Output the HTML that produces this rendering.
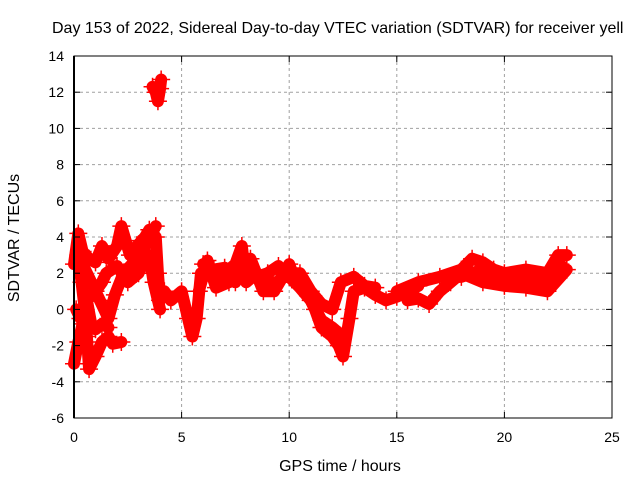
<!DOCTYPE html>
<html><head><meta charset="utf-8"><style>
body{margin:0;background:#fff}
svg text{font-family:"Liberation Sans",sans-serif;font-size:14px;fill:#000}
svg text.big{font-size:16px}
</style></head><body>
<svg width="640" height="480">
<g id="grid"></g>
<g id="series"></g>
<g id="axes"></g>
<text class="big" x="52" y="33" text-anchor="start">Day 153 of 2022, Sidereal Day-to-day VTEC variation (SDTVAR) for receiver yell</text>
<text class="big" x="340" y="471" text-anchor="middle">GPS time / hours</text>
<text class="big" transform="translate(19,238) rotate(-90)" text-anchor="middle">SDTVAR / TECUs</text>
</svg>
<script>
const xTicks=[0,5,10,15,20,25];
const yTicks=[-6,-4,-2,0,2,4,6,8,10,12,14];
const trackA=[[0,2.5],[0.2,4.2],[0.4,3.2],[0.7,2.8],[1,2.6],[1.3,3.5],[1.6,2.8],[2,3.5],[2.2,4.6],[2.4,3.8],[2.6,3],[3,3.6],[3.3,4],[3.5,4.4],[3.8,4],[3.9,2],[4,0.5]];
const trackB=[[0.1,0],[0.3,-0.5],[0.6,0.5],[1,1],[1.3,1.5],[1.5,2],[2,2.4],[2.5,1.5],[3,2],[3.3,2.8],[3.5,3],[3.7,1.5],[4,0]];
const trackC=[[0,-3],[0.2,-1.8],[0.4,-0.8],[0.6,0.5],[0.8,-0.8],[1,-1.1],[1.3,-0.8],[1.6,-1]];
const trackD=[[0.2,3],[0.35,1.5],[0.5,0],[0.6,-1.5],[0.7,-3.3],[1,-2.6],[1.3,-1.8],[1.6,-1.5],[1.8,-1.9],[2.2,-1.8]];
const trackK=[[0.4,2.5],[0.8,1.5],[1.2,0.5],[1.6,-0.5],[1.9,0.8],[2.3,2],[2.7,2.5],[3.1,3],[3.5,4],[3.8,4.6]];
const trackE=[[3.65,12.3],[3.8,12],[3.9,11.5],[4,12.2],[4.05,12.7]];
const trackF=[[4.2,1],[4.5,0.5],[5,1],[5.3,-0.5],[5.5,-1.5],[5.7,-0.5],[5.9,2],[6.3,2],[6.8,1.5],[7,2],[7.5,2.5],[7.8,3.5],[8,1.5],[8.5,2],[9,1.5],[9.5,1.5],[10,2.5],[10.3,1.5],[10.8,1],[11.2,0],[11.5,-1],[12,-1.5],[12.3,-2],[12.5,-2.6],[12.8,-0.5],[13,1],[13.5,1.2],[14,0.8],[14.5,0.5],[15,0.7],[15.5,1],[16,1.3]];
const trackG=[[5.8,1],[6.2,2.7],[6.6,1.2],[7.2,1.5],[7.6,1.8],[8.2,2.8],[8.8,1],[9.3,1],[9.8,2],[10.5,2],[11,1],[11.5,0.3],[12,0],[12.4,1.5],[13,1.8],[13.5,1.3],[14,1.2]];
const trackL=[[6,2.5],[6.5,2.2],[7,2.3],[7.5,1.5],[8,2.4],[8.5,1.8],[9,2],[9.5,2.4],[10,1.8],[10.5,1.2],[11,0.5],[11.5,-0.6],[12,-1],[12.5,-1.5]];
const trackH=[[15,1],[16,1.5],[17,1.8],[18,2.2],[18.5,2.8],[19,2.6],[19.5,2.2],[20,2],[21,2.2],[22,2],[22.5,3],[22.9,3]];
const trackI=[[15.5,0.5],[16,0.6],[16.5,0.3],[17,1],[17.5,1.5],[18,2],[19,1.5],[20,1.3],[21,1.2],[22,1],[22.9,2.2]];
const trackJ=[[17.5,1.8],[18,1.8],[19,2.2],[20,1.7],[21,1.8],[22,1.5],[22.6,2.5]];
const tracks=[trackA,trackB,trackC,trackD,trackK,trackE,trackF,trackG,trackL,trackH,trackI,trackJ];
const X0=74,X1=612,Y0=418,Y1=56;
const xs=h=>X0+h/25*(X1-X0);
const ys=v=>Y0-(v+6)/20*(Y0-Y1);
const NS='http://www.w3.org/2000/svg';
function mk(t,a,p){const e=document.createElementNS(NS,t);for(const k in a)e.setAttribute(k,a[k]);p.appendChild(e);return e;}
const grid=document.getElementById('grid'),axes=document.getElementById('axes'),ser=document.getElementById('series');
xTicks.forEach(t=>{const x=xs(t);
 if(t>0&&t<25){const l=mk('line',{x1:x,x2:x,y1:Y1,y2:Y0,stroke:'#a0a0a0','stroke-dasharray':'3,3'},grid);
 
 }
 const tx=mk('text',{x:x,y:Y0+24,'text-anchor':'middle'},axes);tx.textContent=t;
 
 
 mk('line',{x1:x,x2:x,y1:Y0,y2:Y0-6,stroke:'#000'},axes);mk('line',{x1:x,x2:x,y1:Y1,y2:Y1+6,stroke:'#000'},axes);});
yTicks.forEach(t=>{const y=ys(t);
 if(t>-6&&t<14){const l=mk('line',{x1:X0,x2:X1,y1:y,y2:y,stroke:'#a0a0a0','stroke-dasharray':'3,3'},grid);
 
 }
 const tx=mk('text',{x:X0-10,y:y+5,'text-anchor':'end'},axes);tx.textContent=t;
 
 
 mk('line',{x1:X0,x2:X0+6,y1:y,y2:y,stroke:'#000'},axes);mk('line',{x1:X1,x2:X1-6,y1:y,y2:y,stroke:'#000'},axes);});
mk('rect',{x:X0,y:Y1,width:X1-X0,height:Y0-Y1,fill:'none',stroke:'#000'},axes);
mk('line',{x1:X0,x2:X0,y1:Y1,y2:Y0,stroke:'#000','stroke-width':2},axes);
tracks.forEach((tr,i)=>{
 const pl=mk('polyline',{points:tr.map(p=>xs(p[0])+','+ys(p[1])).join(' '),fill:'none',stroke:'#f00','stroke-width':12,'stroke-linejoin':'round','stroke-linecap':'round'},ser);
 
 
 tr.forEach(p=>{const x=xs(p[0]),y=ys(p[1]);
  const m=mk('path',{d:`M${x-9},${y}h18M${x},${y-9}v18`,stroke:'#f00','stroke-width':1.5},ser);
  
  });
});
</script>
</body></html>
